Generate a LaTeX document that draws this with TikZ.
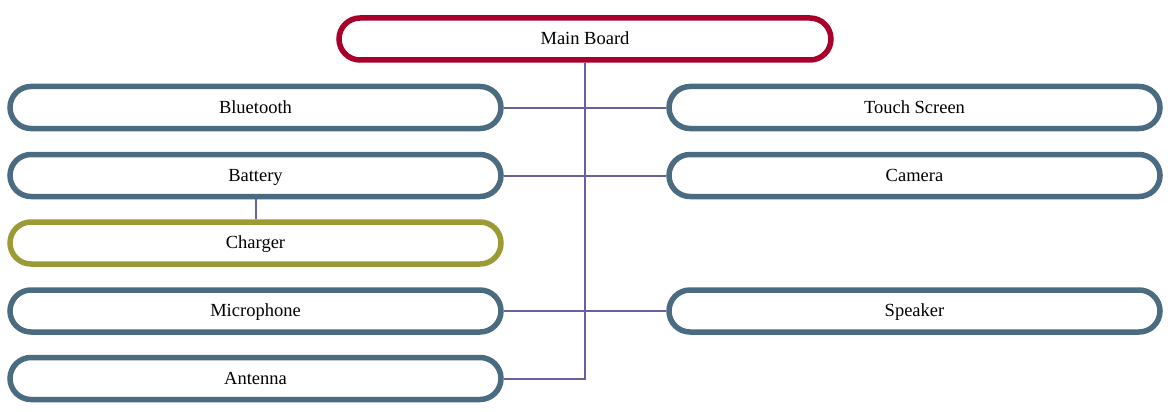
\documentclass[tikz,border=0pt]{standalone}
\usepackage{fontspec}
\setmainfont{Liberation Serif}
\definecolor{rootred}{HTML}{A8002B}
\definecolor{partblue}{HTML}{4A6B80}
\definecolor{subolive}{HTML}{9C9A34}
\definecolor{linkpurple}{HTML}{6B609E}
\tikzset{
  part/.style={draw=partblue, line width=5.5pt, rounded corners=21pt, fill=white,
    minimum width=491pt, minimum height=42pt, inner sep=0pt,
    text height=15.5pt, text depth=4pt,
    font=\fontsize{18.5}{20}\selectfont},
  rootpart/.style={part, draw=rootred},
  subpart/.style={part, draw=subolive},
  link/.style={draw=linkpurple, line width=2pt}
}
\begin{document}
\begin{tikzpicture}[x=1pt,y=-1pt]
\useasboundingbox (0,0) rectangle (1168,412);
% parts
\node[rootpart, minimum width=492pt] (main) at (585,39) {Main Board};
\node[part] (bt) at (255.5,107.5) {Bluetooth};
\node[part] (bat) at (255.5,175.5) {Battery};
\node[subpart] (chg) at (255.5,243) {Charger};
\node[part] (mic) at (255.5,311) {Microphone};
\node[part] (ant) at (255.5,378.5) {Antenna};
\node[part] (ts) at (914.5,107.5) {Touch Screen};
\node[part] (cam) at (914.5,175.5) {Camera};
\node[part] (spk) at (914.5,311) {Speaker};
% connections
\coordinate (trunk) at (main.south |- ant.east);
\draw[link] (main.south) -- (trunk) -- (ant.east);
\draw[link] (bt.east) -- (ts.west);
\draw[link] (bat.east) -- (cam.west);
\draw[link] (mic.east) -- (spk.west);
\draw[link] (bat.south) -- (chg.north);
\end{tikzpicture}
\end{document}
